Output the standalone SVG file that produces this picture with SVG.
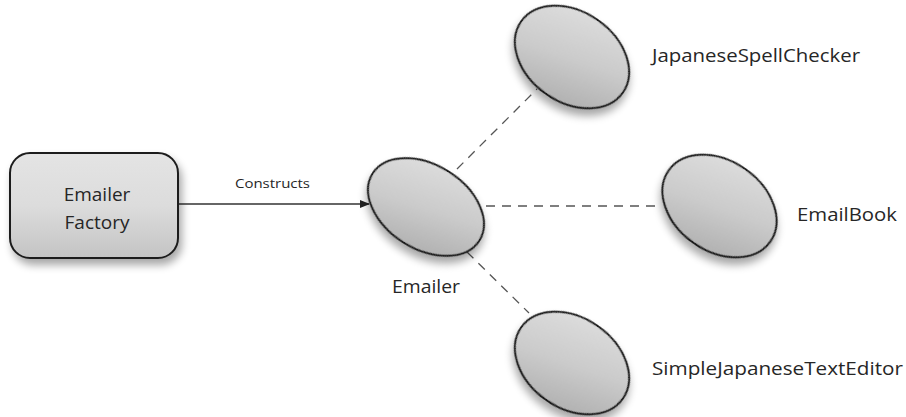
<svg xmlns="http://www.w3.org/2000/svg" width="906" height="417" viewBox="0 0 906 417">
  <defs>
    <linearGradient id="boxFill" x1="0" y1="0" x2="0" y2="1">
      <stop offset="0" stop-color="#e4e4e4"/>
      <stop offset="0.5" stop-color="#dcdcdc"/>
      <stop offset="1" stop-color="#c4c4c4"/>
    </linearGradient>
    <linearGradient id="ovalFill" x1="0.2" y1="0" x2="0.6" y2="1">
      <stop offset="0" stop-color="#dedede"/>
      <stop offset="0.55" stop-color="#cbcbcb"/>
      <stop offset="1" stop-color="#b2b2b2"/>
    </linearGradient>
    <filter id="shadow" x="-30%" y="-30%" width="170%" height="170%">
      <feGaussianBlur in="SourceAlpha" stdDeviation="4"/>
      <feOffset dx="3" dy="6" result="blur"/>
      <feComponentTransfer><feFuncA type="linear" slope="0.35"/></feComponentTransfer>
      <feMerge><feMergeNode/><feMergeNode in="SourceGraphic"/></feMerge>
    </filter>
    <marker id="arrowHead" markerWidth="10" markerHeight="8" refX="9" refY="4" orient="auto" markerUnits="userSpaceOnUse">
      <path d="M0,0 L10,4 L0,8 Z" fill="#222"/>
    </marker>
  </defs>
  <style>
    .label { font-family: "Open Sans", "Liberation Sans", sans-serif; fill: #262626; }
    .big { font-size: 19px; }
    .small { font-size: 13px; }
    .oval { fill: url(#ovalFill); stroke: #1e1e1e; stroke-width: 2; filter: url(#shadow); }
    .dash { stroke: #555; stroke-width: 1.3; stroke-dasharray: 9 7; fill: none; }
    .solid { stroke: #333; stroke-width: 1.3; fill: none; }
  </style>
  <rect width="906" height="417" fill="#ffffff"/>

  <g id="connectors">
    <line class="solid" x1="178" y1="204" x2="369" y2="204" marker-end="url(#arrowHead)"/>
    <text class="label small" x="235" y="188" textLength="75" lengthAdjust="spacingAndGlyphs">Constructs</text>
    <line class="dash" x1="457" y1="169" x2="537" y2="89"/>
    <line class="dash" x1="486" y1="206" x2="661" y2="206"/>
    <line class="dash" x1="467" y1="252" x2="529" y2="313"/>
  </g>

  <g id="emailer-factory">
    <rect x="10" y="153" width="168" height="105" rx="20" ry="20" fill="url(#boxFill)" stroke="#1e1e1e" stroke-width="2" filter="url(#shadow)"/>
    <text class="label big" x="97" y="201" text-anchor="middle">Emailer</text>
    <text class="label big" x="97" y="229" text-anchor="middle">Factory</text>
  </g>

  <g id="emailer">
    <ellipse class="oval" cx="426" cy="207" rx="63" ry="42" transform="rotate(32 426 207)"/>
    <text class="label big" x="392" y="293" textLength="68" lengthAdjust="spacingAndGlyphs">Emailer</text>
  </g>

  <g id="japanese-spell-checker">
    <ellipse class="oval" cx="572" cy="57" rx="62" ry="45" transform="rotate(35 572 57)"/>
    <text class="label big" x="652" y="62" textLength="208" lengthAdjust="spacingAndGlyphs">JapaneseSpellChecker</text>
  </g>

  <g id="email-book">
    <ellipse class="oval" cx="719.5" cy="206" rx="62" ry="45" transform="rotate(35 719.5 206)"/>
    <text class="label big" x="797" y="221" textLength="100" lengthAdjust="spacingAndGlyphs">EmailBook</text>
  </g>

  <g id="simple-japanese-text-editor">
    <ellipse class="oval" cx="572" cy="363" rx="62" ry="45" transform="rotate(35 572 363)"/>
    <text class="label big" x="652" y="375" textLength="251" lengthAdjust="spacingAndGlyphs">SimpleJapaneseTextEditor</text>
  </g>
</svg>
